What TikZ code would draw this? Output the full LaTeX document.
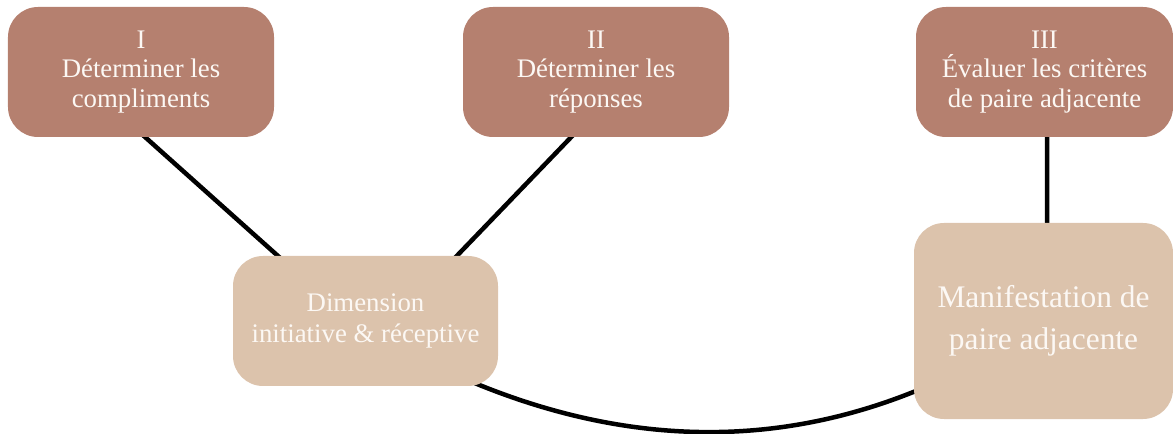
\documentclass[tikz,border=0pt]{standalone}
\usepackage{fontspec}
\setmainfont{Liberation Serif}
\usetikzlibrary{backgrounds}
\definecolor{darkbox}{RGB}{181,128,111}
\definecolor{lightbox}{RGB}{220,195,172}
\definecolor{boxtext}{RGB}{252,248,244}
\tikzset{
  box/.style={rectangle, rounded corners=30bp, inner sep=0pt, align=center, text=boxtext},
  topbox/.style={box, fill=darkbox, minimum height=130bp,
    font=\fontsize{26.8bp}{29.5bp}\selectfont},
  dimbox/.style={box, fill=lightbox, minimum height=130bp,
    font=\fontsize{26.8bp}{31bp}\selectfont},
  manbox/.style={box, fill=lightbox, minimum height=196bp,
    font=\fontsize{31.4bp}{42.5bp}\selectfont},
  link/.style={draw=black, line width=4.5bp}
}
\begin{document}
\begin{tikzpicture}[x=1bp,y=-1bp]
\useasboundingbox (0,0) rectangle (1173,434);
\node[topbox, minimum width=266bp] (I) at (141,72) {I\\Déterminer les\\compliments};
\node[topbox, minimum width=266bp] (II) at (596,72) {II\\Déterminer les\\réponses};
\node[topbox, minimum width=257bp] (III) at (1044.5,72) {III\\Évaluer les critères\\de paire adjacente};
\node[dimbox, minimum width=265bp] (dim) at (365.5,321) {Dimension\\initiative \& réceptive};
\node[manbox, minimum width=259bp] (man) at (1043.5,321) {Manifestation de\\paire adjacente};
\begin{pgfonlayer}{background}
\draw[link] ([xshift=2bp,yshift=2bp]I.south) -- ([xshift=-85.5bp,yshift=-2bp]dim.north);
\draw[link] ([xshift=-23bp,yshift=2bp]II.south) -- ([xshift=89.5bp,yshift=-2bp]dim.north);
\draw[link] ([xshift=2.5bp,yshift=2bp]III.south) -- ([xshift=3.5bp,yshift=-2bp]man.north);
\draw[link] ([xshift=109.5bp,yshift=3bp]dim.south) .. controls (628,446) and (775,448) .. ([xshift=2bp,yshift=-70bp]man.west);
\end{pgfonlayer}
\end{tikzpicture}
\end{document}
